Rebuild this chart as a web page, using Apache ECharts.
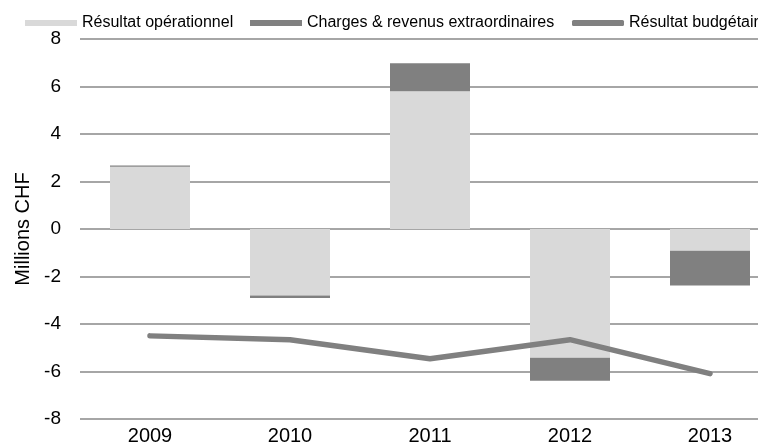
<!DOCTYPE html>
<html>
<head>
<meta charset="utf-8">
<script src="https://cdn.jsdelivr.net/npm/echarts@6/dist/echarts.min.js"></script>
<style>
  html, body { margin: 0; padding: 0; background: #fff; overflow: hidden; }
  #chart { width: 758px; height: 444px; }
</style>
</head>
<body>
<div id="chart"></div>
<script>
// données
var years = ["2009", "2010", "2011", "2012", "2013"];
var resultatOperationnel = [2.62, -2.8, 5.8, -5.42, -0.92];
var chargesExtra = [0.05, -0.1, 1.18, -0.97, -1.46];
var resultatBudgetaire = [-4.5, -4.66, -5.46, -4.66, -6.09];

var fontFam = '"Liberation Sans", Arial, sans-serif';
var legendText = { fontSize: 16, color: "#000", fontFamily: fontFam };

function makeLegend(name, icon, left) {
  return {
    left: left,
    top: 10,
    itemWidth: 52,
    itemHeight: 6,
    textStyle: legendText,
    data: [{ name: name, icon: icon }],
  };
}

var myChart = echarts.init(document.getElementById("chart"));
var option = {
  animation: false,
  backgroundColor: "#fff",
  textStyle: { fontFamily: fontFam },
  legend: [
    makeLegend("Résultat opérationnel", "rect", 20),
    makeLegend("Charges & revenus extraordinaires", "rect", 245),
    makeLegend("Résultat budgétaire", "roundRect", 567),
  ],
  grid: {
    left: 80,
    width: 700,
    top: 39,
    bottom: 25,
    outerBoundsMode: "none",
    show: false,
  },
  xAxis: {
    type: "category",
    data: years,
    axisLine: { show: false },
    axisTick: { show: false },
    splitLine: { show: false },
    splitArea: { show: false },
    axisLabel: { color: "#000", fontSize: 20, margin: 7, fontFamily: fontFam },
  },
  yAxis: {
    type: "value",
    min: -8,
    max: 8,
    interval: 2,
    name: "Millions CHF",
    nameLocation: "middle",
    nameGap: 42,
    nameTextStyle: { color: "#000", fontSize: 20, fontFamily: fontFam },
    axisLine: { show: false },
    axisTick: { show: false },
    axisLabel: { color: "#000", fontSize: 19, margin: 19, fontFamily: fontFam },
    splitLine: {
      lineStyle: { color: "#888888", width: 1.6 },
    },
  },
  series: [
    {
      name: "Résultat opérationnel",
      type: "bar",
      stack: "total",
      barWidth: 80,
      data: resultatOperationnel,
      itemStyle: { color: "#d9d9d9" },
    },
    {
      name: "Charges & revenus extraordinaires",
      type: "bar",
      stack: "total",
      barWidth: 80,
      data: chargesExtra,
      itemStyle: { color: "#808080" },
    },
    {
      name: "Résultat budgétaire",
      type: "line",
      data: resultatBudgetaire,
      symbol: "none",
      lineStyle: { color: "#808080", width: 5.5, cap: "round", join: "round" },
      itemStyle: { color: "#808080" },
    },
  ],
};
myChart.setOption(option, true);
</script>
</body>
</html>
